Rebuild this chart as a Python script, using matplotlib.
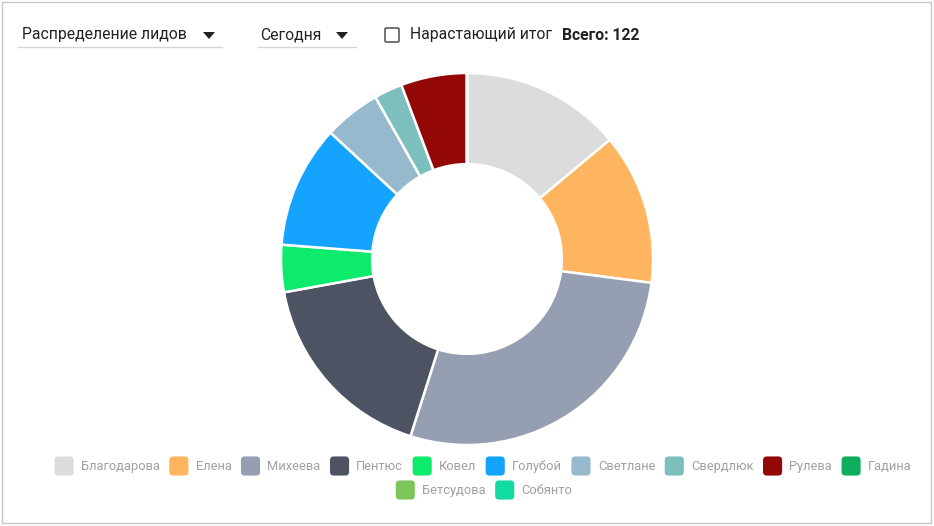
import matplotlib
matplotlib.use('Agg')
import matplotlib.pyplot as plt
from matplotlib.patches import FancyBboxPatch, Rectangle, Polygon
from matplotlib.legend_handler import HandlerBase

plt.rcParams['font.family'] = ['Roboto', 'DejaVu Sans']

# данные распределения лидов
names = ['Благодарова', 'Елена', 'Михеева', 'Пентюс', 'Ковел', 'Голубой',
         'Светлане', 'Свердлюк', 'Рулева', 'Гадина', 'Бетсудова', 'Собянто']
leads = [17, 16, 34, 21, 5, 13, 6, 3, 7, 0, 0, 0]
colors = ['#dcdcdc', '#ffb55f', '#959fb1', '#4d5362', '#0eea6c', '#14a3ff',
          '#97b9cd', '#7cbfbc', '#930707', '#0eae5e', '#7dc55b', '#12dba0']
total = sum(leads)

W, H = 934, 526
fig = plt.figure(figsize=(W / 100, H / 100), dpi=100)


def fx(px):
    return px / W


def fy(py):
    return 1 - py / H


# рамка карточки
fig.patches.append(Rectangle((fx(2), fy(523)), fx(929), 521 / H, transform=fig.transFigure,
                             fill=False, ec='#c8c8c8', lw=1))

# верхняя панель
fig.text(fx(22), fy(35), 'Распределение лидов', fontsize=11.3, color='#222222', va='center')
fig.add_artist(plt.Line2D([fx(18), fx(222)], [fy(47), fy(47)], color='#d5d5d5', lw=1))
fig.text(fx(260), fy(35), 'Сегодня', fontsize=11.3, color='#222222', va='center')
fig.add_artist(plt.Line2D([fx(258), fx(356)], [fy(47), fy(47)], color='#d5d5d5', lw=1))
for tx in (209, 342):
    fig.patches.append(Polygon([(fx(tx - 6), fy(32)), (fx(tx + 6), fy(32)), (fx(tx), fy(39))],
                               closed=True, transform=fig.transFigure, fc='#222222', ec='none'))
fig.patches.append(FancyBboxPatch((fx(385), fy(42)), fx(14), 14 / H,
                                  boxstyle='round,pad=0,rounding_size=0.002',
                                  transform=fig.transFigure, fill=False, ec='#6a6a6a', lw=1.3))
fig.text(fx(410), fy(35), 'Нарастающий итог', fontsize=11.3, color='#222222', va='center')
fig.text(fx(562), fy(35), f'Всего: {total}', fontsize=11.3, color='#222222', va='center',
         fontweight='bold')

# кольцевая диаграмма
cx, cy, r = 467, 259, 186
ax = fig.add_axes([fx(cx - r), fy(cy + r), 2 * r / W, 2 * r / H])
wedges, _ = ax.pie(leads, colors=colors, startangle=90, counterclock=False,
                   wedgeprops=dict(width=0.49, edgecolor='white', linewidth=1.8))
ax.set_xlim(-1.0, 1.0)
ax.set_ylim(-1.0, 1.0)
ax.set_aspect('equal')
ax.axis('off')


class RoundBox(HandlerBase):
    def create_artists(self, legend, orig, xd, yd, w, h, fontsize, trans):
        s = min(w, h)
        rad = s * 0.2
        x0 = -xd + (w - s) / 2
        y0 = -yd + (h - s) / 2
        p = FancyBboxPatch((x0 + rad, y0 + rad), s - 2 * rad, s - 2 * rad,
                           boxstyle=f'round,pad={rad}', fc=orig.get_facecolor(),
                           ec='none', transform=trans)
        return [p]


leg_kw = dict(frameon=False, fontsize=9.3, labelcolor='#a0a0a0', handlelength=1.5,
              handleheight=1.9, handletextpad=0.55, columnspacing=0.72,
              handler_map={type(wedges[0]): RoundBox()}, borderaxespad=0)
leg1 = fig.legend(wedges[:10], names[:10], ncol=10, loc='center',
                  bbox_to_anchor=(fx(483), fy(466)), **leg_kw)
leg2 = fig.legend(wedges[10:], names[10:], ncol=2, loc='center',
                  bbox_to_anchor=(fx(484), fy(490)), **leg_kw)

fig.savefig('out.png', dpi=100)
